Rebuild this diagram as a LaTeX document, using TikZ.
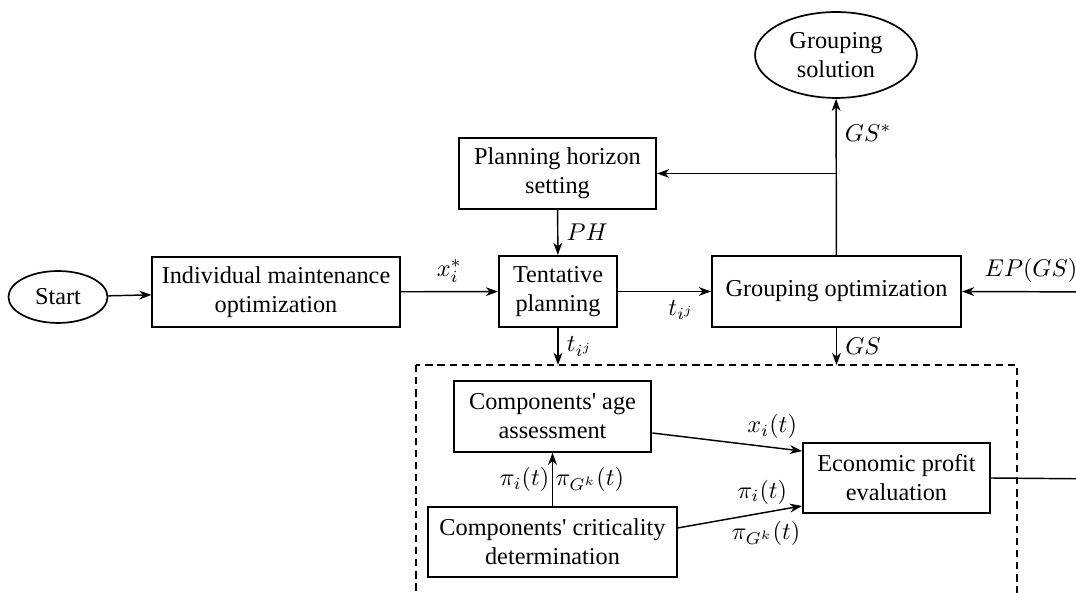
\documentclass[tikz,border=0pt]{standalone}
\usepackage{amsmath, amssymb}
\usepackage{fontspec}
\setmainfont{Liberation Serif}
\newfontfamily\timesfont{Liberation Serif}
\usetikzlibrary{shapes.geometric, arrows.meta}

\begin{document}
\begin{tikzpicture}[x=0.412pt, y=-0.412pt, semithick,
		block/.style = {draw, line width=0.8pt, align=center, inner sep=1pt, font=\timesfont},
		terminal/.style = {draw, ellipse, line width=0.7pt, align=center, inner sep=0pt, font=\timesfont},
		tip/.style = {-{Stealth[length=5pt, width=3.6pt, inset=1.5pt]}}]
			\useasboundingbox (0,0) rectangle (1076,593);
			\clip (0,0) rectangle (1076,593);

			\coordinate (boxTL) at (416,365);
			\coordinate (boxBR) at (1017,640);
			\coordinate (epin) at (1100,292);
			\coordinate (epout) at (1100,479);

			% main line
			\node [terminal, minimum width=40.8pt, minimum height=21.4pt] (start) at (58,297) {Start};
			\node [block, minimum width=101.8pt, minimum height=28.8pt] (indiv) at (276,292) {Individual maintenance\\optimization};
			\node [block, minimum width=48.6pt, minimum height=29.3pt] (tent) at (558,291.5) {Tentative\\planning};
			\node [block, minimum width=81.2pt, minimum height=29.3pt] (plan) at (557.5,173.5) {Planning horizon\\setting};
			\node [block, minimum width=102.6pt, minimum height=29.3pt] (group) at (836.5,291.5) {Grouping optimization};
			\node [terminal, minimum width=66.7pt, minimum height=35.4pt] (sol) at (836,55) {Grouping\\solution};

			% evaluation
			\node [block, minimum width=81.5pt, minimum height=29pt] (age) at (552.5,416.5) {Components' age\\assessment};
			\node [block, minimum width=77pt, minimum height=28.8pt] (econ) at (896.5,478) {Economic profit\\evaluation};
			\node [block, minimum width=102.6pt, minimum height=28.8pt] (crit) at (552.5,542) {Components' criticality\\determination};

			\draw [densely dashed, line width=0.5pt] (boxTL) rectangle (boxBR);

			\begin{scope}[tip]
				\draw (start) -- (indiv);
				\draw (indiv) -- (tent) node [midway, above] {$x_i^*$};
				\draw (tent) -- (group) node [pos=0.68, below] {$t_{i^j}$};
				\draw (plan) -- (tent) node [midway, right] {$PH$};
				\draw (group) -- (sol) node [pos=0.78, right] {$GS^*$};
				\draw (group.north |- plan.east) -- (plan.east);
				\draw (tent) -- (tent.south |- boxTL) node [midway, right] {$t_{i^j}$};
				\draw (group) -- (group.south |- boxTL) node [midway, right] {$GS$};
				\draw (epin) -- (group.east) node [midway, above] {$EP(GS)$};
			\end{scope}

			\begin{scope}[tip]
				\draw ([yshift=-6.8pt]age.east) -- ([yshift=11.1pt]econ.west) node [pos=0.8, above] {$x_i(t)$};
				\draw ([yshift=5.8pt]crit.east) -- ([yshift=-11.5pt]econ.west)
					node [pos=0.68, above] {$\pi_i(t)$}
					node [pos=0.71, below] {$\pi_{G^k}(t)$};
				\draw (crit) -- (age)
					node [midway, left, inner sep=1pt] {$\pi_i(t)$}
					node [midway, right, inner sep=1pt] {$\pi_{G^k}(t)$};
			\end{scope}

			\draw (econ.east) -- (epout);
		\end{tikzpicture}
\end{document}
